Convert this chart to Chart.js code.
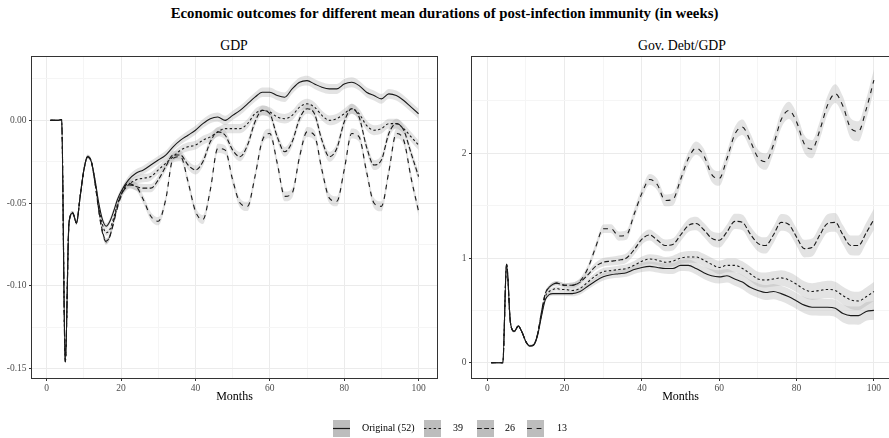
<!DOCTYPE html>
<html>
<head>
<meta charset="utf-8">
<script src="https://cdn.jsdelivr.net/npm/chart.js@4.4.1/dist/chart.umd.min.js"></script>
<style>
  body { margin: 0; background: #fff; overflow: hidden; font-family: "Liberation Serif", "Times New Roman", serif; }
  #wrap { position: relative; width: 889px; height: 438px; overflow: hidden; }
  canvas { position: absolute; top: 0; }
  #gdp { left: 0; }
  #debt { left: 445px; }
  .main-title { position: absolute; top: 5px; left: 0; width: 889px; text-align: center; font-weight: bold; font-size: 14.8px; }
  .panel-title { position: absolute; top: 38px; width: 300px; text-align: center; font-size: 13.8px; }
  .key { position: absolute; top: 420px; width: 17px; height: 17px; background: #bdbdbd; }
  .key svg { display: block; }
  .key-label { position: absolute; top: 421px; font-size: 10px; line-height: 14px; }
</style>
</head>
<body>
<div id="wrap">
  <div class="main-title">Economic outcomes for different mean durations of post-infection immunity (in weeks)</div>
  <div class="panel-title" style="left:84px">GDP</div>
  <div class="panel-title" style="left:532px">Gov. Debt/GDP</div>
  <canvas id="gdp" width="445" height="438"></canvas>
  <canvas id="debt" width="444" height="438"></canvas>
  <div id="legend"></div>
</div>
<script>
// months after the shock (monthly to 20, then every second month)
const months = [1, 2, 3, 4, 5, 6, 7, 8, 9, 10, 11, 12, 13, 14, 15, 16, 17, 18, 19, 20,
  22, 24, 26, 28, 30, 32, 34, 36, 38, 40, 42, 44, 46, 48, 50, 52, 54, 56, 58, 60,
  62, 64, 66, 68, 70, 72, 74, 76, 78, 80, 82, 84, 86, 88, 90, 92, 94, 96, 98, 100];

const seriesNames = ['Original (52)', '39', '26', '13'];

// GDP deviation
const gdpOriginal = [0, 0, 0, 0.0005, -0.146, -0.062, -0.056, -0.062, -0.046, -0.030, -0.022, -0.025, -0.036, -0.050, -0.060, -0.064, -0.061, -0.055, -0.048, -0.043,
  -0.036, -0.032, -0.030, -0.027, -0.024, -0.021, -0.016, -0.012, -0.009, -0.006,
  -0.002, 0.001, 0.002, 0.000, 0.003, 0.006, 0.010, 0.014, 0.017, 0.017,
  0.015, 0.014, 0.019, 0.023, 0.024, 0.022, 0.020, 0.019, 0.019, 0.022,
  0.023, 0.021, 0.017, 0.015, 0.013, 0.016, 0.015, 0.012, 0.008, 0.004];
const gdp39 = [0, 0, 0, 0.0005, -0.146, -0.062, -0.056, -0.062, -0.046, -0.030, -0.022, -0.025, -0.037, -0.052, -0.063, -0.068, -0.066, -0.059, -0.051, -0.045,
  -0.039, -0.036, -0.035, -0.034, -0.030, -0.026, -0.022, -0.018, -0.016, -0.015,
  -0.012, -0.010, -0.007, -0.005, -0.005, -0.005, -0.002, 0.004, 0.006, 0.005,
  0.002, 0.001, 0.003, 0.008, 0.010, 0.008, 0.003, 0.000, 0.001, 0.004,
  0.007, 0.004, -0.003, -0.006, -0.005, -0.002, -0.002, -0.005, -0.010, -0.015];
const gdp26 = [0, 0, 0, 0.0005, -0.146, -0.062, -0.056, -0.062, -0.046, -0.030, -0.022, -0.025, -0.038, -0.054, -0.067, -0.073, -0.070, -0.061, -0.052, -0.045,
  -0.038, -0.040, -0.041, -0.041, -0.036, -0.028, -0.021, -0.021, -0.027, -0.030,
  -0.025, -0.013, -0.007, -0.009, -0.018, -0.022, -0.015, -0.001, 0.006, 0.004,
  -0.010, -0.019, -0.013, 0.001, 0.007, 0.004, -0.012, -0.022, -0.017, -0.001,
  0.007, 0.002, -0.016, -0.027, -0.024, -0.008, -0.002, -0.006, -0.020, -0.034];
const gdp13 = [0, 0, 0, 0.0005, -0.146, -0.062, -0.056, -0.062, -0.046, -0.030, -0.022, -0.025, -0.038, -0.055, -0.068, -0.0735, -0.070, -0.062, -0.053, -0.046,
  -0.039, -0.040, -0.048, -0.058, -0.061, -0.048, -0.023, -0.022, -0.037, -0.055,
  -0.060, -0.042, -0.017, -0.018, -0.036, -0.050, -0.052, -0.034, -0.012, -0.008,
  -0.026, -0.046, -0.044, -0.022, -0.007, -0.009, -0.030, -0.047, -0.049, -0.030,
  -0.008, -0.010, -0.031, -0.050, -0.052, -0.031, -0.008, -0.012, -0.035, -0.055];
// half width of the GDP confidence ribbons
const gdpBand = [0.0003, 0.0003, 0.0003, 0.0003, 0.0008, 0.0012, 0.0012, 0.0012, 0.0012, 0.0012, 0.0012, 0.0012, 0.0018, 0.0018, 0.0018, 0.0018, 0.0018, 0.0018, 0.0018, 0.0018,
  0.0024, 0.0024, 0.0025, 0.0025, 0.0025, 0.0026, 0.0026, 0.0026, 0.0027, 0.0027,
  0.0027, 0.0027, 0.0028, 0.0028, 0.0028, 0.0028, 0.0028, 0.0028, 0.0029, 0.0029,
  0.0029, 0.0029, 0.0029, 0.0029, 0.0030, 0.0030, 0.0030, 0.0030, 0.0030, 0.0030,
  0.0030, 0.0030, 0.0030, 0.0030, 0.0030, 0.0030, 0.0030, 0.0030, 0.0030, 0.0030];

// government debt to GDP
const debtOriginal = [0, 0, 0, 0, 0.94, 0.38, 0.30, 0.35, 0.29, 0.20, 0.16, 0.17, 0.26, 0.44, 0.60, 0.65, 0.66, 0.66, 0.66, 0.66,
  0.66, 0.68, 0.73, 0.78, 0.82, 0.84, 0.85, 0.86, 0.89, 0.91,
  0.92, 0.91, 0.90, 0.90, 0.93, 0.93, 0.90, 0.86, 0.83, 0.82,
  0.83, 0.80, 0.77, 0.72, 0.69, 0.67, 0.68, 0.66, 0.63, 0.59,
  0.55, 0.53, 0.53, 0.53, 0.52, 0.47, 0.45, 0.45, 0.49, 0.50];
const debt39 = [0, 0, 0, 0, 0.94, 0.38, 0.30, 0.35, 0.29, 0.20, 0.16, 0.17, 0.27, 0.46, 0.63, 0.68, 0.70, 0.71, 0.70, 0.70,
  0.69, 0.71, 0.77, 0.83, 0.87, 0.88, 0.89, 0.90, 0.93, 0.97,
  0.99, 0.98, 0.96, 0.97, 1.00, 1.01, 1.01, 0.98, 0.94, 0.91,
  0.93, 0.93, 0.90, 0.85, 0.80, 0.79, 0.80, 0.81, 0.79, 0.75,
  0.70, 0.68, 0.69, 0.70, 0.69, 0.64, 0.60, 0.59, 0.63, 0.68];
const debt26 = [0, 0, 0, 0, 0.94, 0.38, 0.30, 0.35, 0.29, 0.20, 0.16, 0.17, 0.27, 0.48, 0.66, 0.72, 0.75, 0.76, 0.75, 0.74,
  0.74, 0.77, 0.84, 0.92, 0.96, 0.97, 0.98, 1.00, 1.08, 1.18,
  1.22, 1.17, 1.12, 1.13, 1.22, 1.31, 1.33, 1.27, 1.19, 1.17,
  1.25, 1.35, 1.34, 1.23, 1.14, 1.12, 1.22, 1.34, 1.32, 1.20,
  1.09, 1.10, 1.22, 1.33, 1.34, 1.22, 1.12, 1.12, 1.24, 1.37];
const debt13 = [0, 0, 0, 0, 0.94, 0.38, 0.30, 0.35, 0.29, 0.20, 0.16, 0.17, 0.27, 0.48, 0.66, 0.72, 0.75, 0.76, 0.75, 0.74,
  0.74, 0.78, 0.90, 1.10, 1.28, 1.28, 1.21, 1.22, 1.42, 1.62,
  1.75, 1.70, 1.55, 1.56, 1.75, 1.95, 2.05, 1.98, 1.80, 1.76,
  1.95, 2.18, 2.25, 2.12, 1.96, 1.92, 2.08, 2.32, 2.41, 2.30,
  2.09, 2.04, 2.22, 2.46, 2.57, 2.45, 2.24, 2.21, 2.42, 2.70];
// ribbon half widths: original/39 and 26/13
const debtBandLow = [0, 0, 0, 0, 0.01, 0.01, 0.01, 0.01, 0.01, 0.01, 0.01, 0.01, 0.02, 0.02, 0.02, 0.02, 0.02, 0.02, 0.02, 0.02,
  0.025, 0.028, 0.030, 0.032, 0.034, 0.036, 0.038, 0.040, 0.042, 0.044,
  0.046, 0.048, 0.050, 0.052, 0.054, 0.056, 0.058, 0.060, 0.062, 0.064,
  0.065, 0.066, 0.068, 0.069, 0.070, 0.072, 0.073, 0.074, 0.076, 0.077,
  0.078, 0.080, 0.081, 0.082, 0.083, 0.085, 0.086, 0.087, 0.088, 0.090];
const debtBandHigh = [0, 0, 0, 0, 0.01, 0.01, 0.01, 0.01, 0.01, 0.01, 0.01, 0.01, 0.02, 0.02, 0.02, 0.02, 0.02, 0.02, 0.02, 0.02,
  0.025, 0.030, 0.033, 0.036, 0.040, 0.042, 0.044, 0.046, 0.048, 0.050,
  0.052, 0.054, 0.056, 0.058, 0.060, 0.062, 0.064, 0.066, 0.068, 0.070,
  0.071, 0.072, 0.074, 0.075, 0.076, 0.078, 0.079, 0.080, 0.082, 0.083,
  0.084, 0.086, 0.087, 0.088, 0.090, 0.092, 0.094, 0.096, 0.098, 0.100];

// axis ticks (labelled) and minor grid positions
const xTicks = [0, 20, 40, 60, 80, 100];
const xMinor = [10, 30, 50, 70, 90];
const gdpTicks = [-0.15, -0.10, -0.05, 0.00];
const gdpMinor = [-0.125, -0.075, -0.025, 0.025];
const debtTicks = [0, 1, 2];
const debtMinor = [0.5, 1.5, 2.5];

const FONT = '"Liberation Serif", "Times New Roman", serif';
const LINE = '#1a1a1a';
const RIBBON = 'rgba(170, 170, 170, 0.33)';
const dashes = [[], [2.4, 2.4], [4.8, 2.4], [4.8, 4.8]];

function points(vals, off, sign) {
    return months.map((m, i) => ({ x: m, y: vals[i] + sign * (off ? off[i] : 0) }));
}

function buildDatasets(series, bands) {
    let sets = [];
    // ribbons first: upper edge filled down to the lower edge
    series.forEach((vals, k) => {
        sets.push({ data: points(vals, bands[k], 1), fill: '+1', backgroundColor: RIBBON,
            borderWidth: 0, pointRadius: 0, order: 1, cubicInterpolationMode: 'monotone' });
        sets.push({ data: points(vals, bands[k], -1), fill: false,
            borderWidth: 0, pointRadius: 0, order: 1, cubicInterpolationMode: 'monotone' });
    });
    series.forEach((vals, k) => {
        sets.push({ label: seriesNames[k], data: points(vals, null, 0), fill: false,
            borderColor: LINE, borderWidth: 1.1, borderDash: dashes[k], pointRadius: 0,
            order: 0, cubicInterpolationMode: 'monotone' });
    });
    return sets;
}

function near(list, v) {
    return list.some(t => Math.abs(t - v) < 1e-9);
}

function xScale(min, max) {
    let all = xTicks.concat(xMinor).sort((a, b) => a - b);
    return {
        type: 'linear', min: min, max: max,
        afterBuildTicks: s => { s.ticks = all.map(v => ({ value: v })); },
        afterFit: s => { s.height = 30; },
        ticks: { autoSkip: false, maxRotation: 0, color: '#4d4d4d', padding: 1.5,
            font: { family: FONT, size: 9.5 },
            callback: v => near(xTicks, v) ? String(v) : '' },
        grid: { lineWidth: 1, tickLength: 3,
            color: c => (c.tick && !near(xTicks, c.tick.value)) ? '#f5f5f5' : '#ebebeb',
            tickColor: c => (c.tick && near(xTicks, c.tick.value)) ? '#333333' : 'rgba(0,0,0,0)' },
        border: { display: false },
        title: { display: true, text: 'Months', color: '#000', font: { family: FONT, size: 12 },
            padding: { top: 0, bottom: 4 } }
    };
}

function yScale(min, max, majors, minors, fmt, width) {
    let all = majors.concat(minors).sort((a, b) => a - b);
    return {
        type: 'linear', min: min, max: max,
        afterBuildTicks: s => { s.ticks = all.map(v => ({ value: v })); },
        afterFit: s => { s.width = width; },
        ticks: { autoSkip: false, color: '#4d4d4d', padding: 2.5,
            font: { family: FONT, size: 9.5 },
            callback: v => near(majors, v) ? fmt(v) : '' },
        grid: { lineWidth: 1, tickLength: 3,
            color: c => (c.tick && !near(majors, c.tick.value)) ? '#f5f5f5' : '#ebebeb',
            tickColor: c => (c.tick && near(majors, c.tick.value)) ? '#333333' : 'rgba(0,0,0,0)' },
        border: { display: false }
    };
}

// dark frame around the plotting panel
const panelBorder = {
    id: 'panelBorder',
    afterDraw(chart) {
        const { ctx, chartArea: a } = chart;
        ctx.save();
        ctx.strokeStyle = '#333333';
        ctx.lineWidth = 1;
        ctx.strokeRect(Math.round(a.left) - 0.5, Math.round(a.top) - 0.5,
            Math.round(a.right - a.left) + 1, Math.round(a.bottom - a.top) + 1);
        ctx.restore();
    }
};

function makeChart(id, datasets, x, y, padRight) {
    return new Chart(document.getElementById(id).getContext('2d'), {
        type: 'line',
        data: { datasets: datasets },
        options: {
            responsive: false,
            animation: false,
            layout: { padding: { left: 0, right: padRight, top: 57, bottom: 30 } },
            plugins: { legend: { display: false }, tooltip: { enabled: false } },
            scales: { x: x, y: y }
        },
        plugins: [panelBorder]
    });
}

makeChart('gdp',
    buildDatasets([gdpOriginal, gdp39, gdp26, gdp13], [gdpBand, gdpBand, gdpBand, gdpBand]),
    xScale(-3.95, 104.95),
    yScale(-0.1558, 0.0383, gdpTicks, gdpMinor, v => v.toFixed(2), 32),
    8);

makeChart('debt',
    buildDatasets([debtOriginal, debt39, debt26, debt13], [debtBandLow, debtBandLow, debtBandHigh, debtBandHigh]),
    xScale(-3.95, 103.9),
    yScale(-0.146, 2.92, debtTicks, debtMinor, v => String(v), 27),
    0);

// legend keys along the bottom
const keyLeft = [333, 424, 477, 527];
const labelLeft = [362, 453, 505, 557];
let legend = document.getElementById('legend');
seriesNames.forEach((name, k) => {
    let key = document.createElement('div');
    key.className = 'key';
    key.style.left = keyLeft[k] + 'px';
    key.innerHTML = '<svg width="17" height="17"><line x1="0" y1="8.5" x2="17" y2="8.5" stroke="' + LINE +
        '" stroke-width="1.2" stroke-dasharray="' + (dashes[k].length ? dashes[k].join(',') : 'none') + '"/></svg>';
    legend.appendChild(key);
    let lab = document.createElement('div');
    lab.className = 'key-label';
    lab.style.left = labelLeft[k] + 'px';
    lab.textContent = name;
    legend.appendChild(lab);
});
</script>
</body>
</html>
